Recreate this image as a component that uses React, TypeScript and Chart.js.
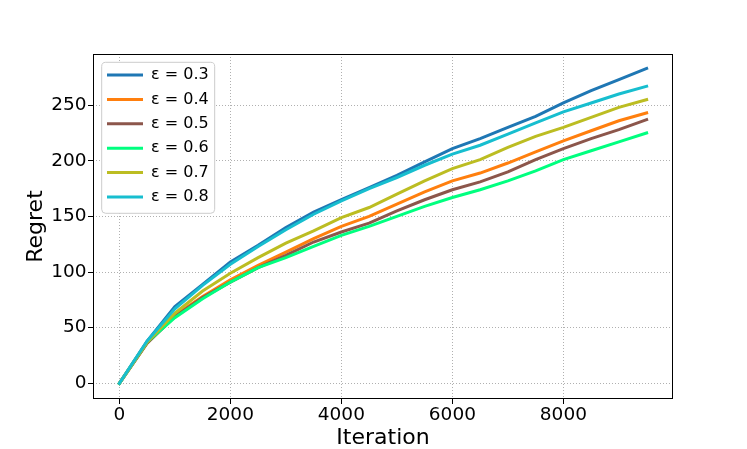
import { useEffect, useRef } from 'react';
import { Chart, registerables } from 'chart.js';
import type { Plugin } from 'chart.js';

Chart.register(...registerables);

// iteration axis (every 500 steps)
const iterations = [
  0, 500, 1000, 1500, 2000, 2500, 3000, 3500, 4000, 4500,
  5000, 5500, 6000, 6500, 7000, 7500, 8000, 8500, 9000, 9500,
];

// regret per epsilon
const eps03 = [0, 38, 69, 89, 109, 124, 140, 154, 165, 176, 187, 199, 211, 220, 230, 240, 252, 263, 273, 283];
const eps04 = [0, 36, 61, 78, 93, 106, 118, 130, 141, 150, 161, 172, 182, 189, 198, 208, 218, 227, 236, 243];
const eps05 = [0, 36, 60, 77, 91, 104, 115, 127, 136, 144, 155, 165, 174, 181, 190, 201, 211, 220, 228, 237];
const eps06 = [0, 37, 59, 76, 91, 104, 113, 123, 133, 141, 150, 159, 167, 174, 182, 191, 201, 209, 217, 225];
const eps07 = [0, 37, 63, 83, 99, 113, 126, 137, 149, 158, 170, 182, 193, 201, 212, 222, 230, 239, 248, 255];
const eps08 = [0, 38, 67, 88, 107, 123, 138, 152, 164, 175, 185, 196, 206, 214, 224, 234, 244, 252, 260, 267];

const seriesLabels = ['ε = 0.3', 'ε = 0.4', 'ε = 0.5', 'ε = 0.6', 'ε = 0.7', 'ε = 0.8'];
const seriesValues = [eps03, eps04, eps05, eps06, eps07, eps08];
const seriesColors = ['#1f77b4', '#ff7f0e', '#8c564b', '#00ff7f', '#bcbd22', '#17becf'];

const xTicks = [0, 2000, 4000, 6000, 8000];
const yTicks = [0, 50, 100, 150, 200, 250];

const LEGEND_FONT = 16;
const LEGEND_PAD = 8.4;

const framePlugin: Plugin<'line'> = {
  id: 'frame',
  afterLayout(chart) {
    const lg: any = chart.legend;
    if (!lg) return;
    const a = chart.chartArea;
    const w = lg.width;
    lg.left = a.left + 5.6;
    lg.right = lg.left + w;
    lg.top = a.top + 4.6;
    lg.bottom = a.bottom;
  },
  beforeDatasetsDraw(chart) {
    const lg: any = chart.legend;
    if (!lg || !lg.legendItems) return;
    const ctx = chart.ctx;
    const n = lg.legendItems.length;
    const widest = Math.max(...lg.legendHitBoxes.map((h: any) => h.width));
    const x0 = lg.left + LEGEND_PAD - 5.3;
    const y0 = lg.top + LEGEND_PAD - 4.7;
    const x1 = lg.left + LEGEND_PAD + widest + 6;
    const y1 = lg.top + LEGEND_PAD + n * (LEGEND_FONT + LEGEND_PAD) - LEGEND_PAD + 8.3;
    ctx.save();
    ctx.beginPath();
    ctx.roundRect(x0, y0, x1 - x0, y1 - y0, 4);
    ctx.fillStyle = '#ffffff';
    ctx.fill();
    ctx.strokeStyle = '#cccccc';
    ctx.lineWidth = 1;
    ctx.stroke();
    ctx.restore();
    lg.draw();
  },
  afterDatasetsDraw(chart) {
    const { ctx, chartArea: a } = chart;
    ctx.save();
    ctx.strokeStyle = '#000';
    ctx.lineWidth = 1;
    ctx.strokeRect(a.left + 0.5, a.top + 0.5, a.width - 1, a.height - 1);
    ctx.restore();
  },
};

export default function App() {
  const canvasRef = useRef<HTMLCanvasElement>(null);
  const chartRef = useRef<Chart | null>(null);

  useEffect(() => {
    if (!canvasRef.current) return;
    chartRef.current?.destroy();

    Chart.defaults.font.family = '"DejaVu Sans", sans-serif';
    Chart.defaults.color = '#000';

    chartRef.current = new Chart(canvasRef.current, {
      type: 'line',
      data: {
        datasets: seriesValues.map((vals, i) => ({
          label: seriesLabels[i],
          data: iterations.map((x, j) => ({ x, y: vals[j] })),
          borderColor: seriesColors[i],
          backgroundColor: seriesColors[i],
          borderWidth: 3,
          borderCapStyle: 'square' as const,
          pointRadius: 0,
          tension: 0,
          fill: false,
          order: seriesValues.length - 1 - i,
        })),
      },
      options: {
        animation: false,
        responsive: true,
        maintainAspectRatio: false,
        layout: { padding: { left: 0, top: 54, right: 74, bottom: 0 } },
        plugins: {
          tooltip: { enabled: false },
          legend: {
            position: 'chartArea',
            align: 'start',
            labels: {
              usePointStyle: true,
              pointStyle: 'line',
              pointStyleWidth: 36,
              padding: LEGEND_PAD,
              color: '#000',
              font: { size: LEGEND_FONT },
              sort: (a, b) => (a.datasetIndex ?? 0) - (b.datasetIndex ?? 0),
            },
          },
        },
        scales: {
          x: {
            type: 'linear',
            min: -475,
            max: 9975,
            afterBuildTicks: (s) => {
              s.ticks = xTicks.map((v) => ({ value: v }));
            },
            afterFit: (s) => {
              s.height = 50;
            },
            grid: { color: '#b0b0b0', lineWidth: 1, tickColor: '#000', tickLength: 5, tickWidth: 1 },
            border: { display: false, dash: [1, 2] },
            ticks: {
              color: '#000',
              font: { size: 18.5 },
              padding: 0,
              maxRotation: 0,
              callback: (v) => String(v),
            },
            title: {
              display: true,
              text: 'Iteration',
              color: '#000',
              font: { size: 22, lineHeight: 1 },
              padding: 0,
            },
          },
          y: {
            type: 'linear',
            min: -14.1,
            max: 296,
            afterBuildTicks: (s) => {
              s.ticks = yTicks.map((v) => ({ value: v }));
            },
            afterFit: (s) => {
              s.width = 93;
            },
            grid: { color: '#b0b0b0', lineWidth: 1, tickColor: '#000', tickLength: 5, tickWidth: 1 },
            border: { display: false, dash: [1, 2] },
            ticks: {
              color: '#000',
              font: { size: 18.5 },
              padding: 1.5,
              callback: (v) => String(v),
            },
            title: {
              display: true,
              text: 'Regret',
              color: '#000',
              font: { size: 22, lineHeight: 1 },
              padding: { top: 25.7, bottom: 0 },
            },
          },
        },
      },
      plugins: [framePlugin],
    });

    return () => {
      chartRef.current?.destroy();
      chartRef.current = null;
    };
  }, []);

  return (
    <div style={{ position: 'fixed', left: 0, top: 0, width: 747, height: 449, background: '#fff' }}>
      <canvas ref={canvasRef} />
    </div>
  );
}
